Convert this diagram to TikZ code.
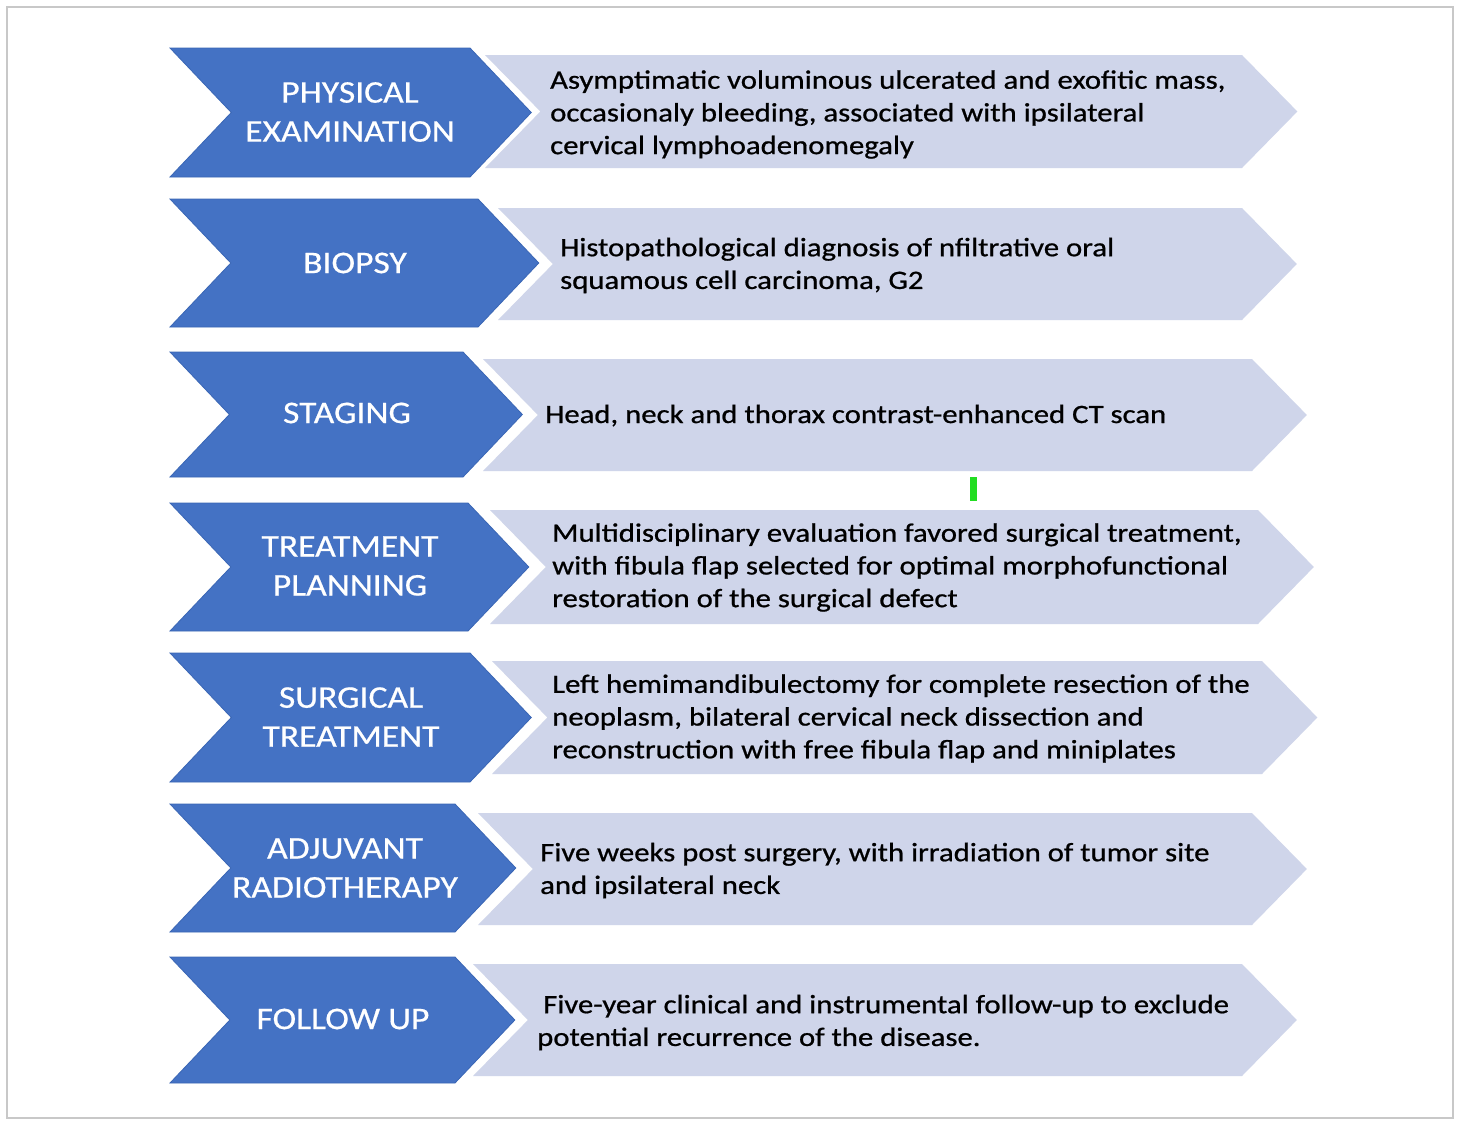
\documentclass[tikz,border=0pt]{standalone}
\usepackage{fontspec}
\setmainfont{Carlito}[FakeStretch=1.16, FakeBold=0.8]
\newfontfamily\lblfont{Carlito}[FakeStretch=1.13, FakeBold=0.6]
\definecolor{chevblue}{HTML}{4472C4}
\definecolor{chevedge}{HTML}{3A66B5}
\definecolor{chevlight}{HTML}{CFD5EA}
\definecolor{framegray}{HTML}{C8C8C8}
\definecolor{markgreen}{HTML}{22DD22}
\tikzset{
  bluechev/.style={fill=chevblue, draw=chevedge, line width=0.8pt, line join=miter},
  lightchev/.style={fill=chevlight},
  lbl/.style={text=white, align=center, inner sep=0pt, font=\lblfont\fontsize{31.5}{39}\selectfont},
  txt/.style={text=black, align=left, anchor=west, inner sep=0pt, yshift=-2.5pt, font=\fontsize{26.5}{32.7}\selectfont},
}
% #1 top, #2 bottom, #3 blue right x, #4 light left x, #5 light top, #6 light bottom, #7 light right x
\newcommand\chevrow[7]{%
  \pgfmathsetmacro\chvMidB{(#1+#2)/2}%
  \pgfmathsetmacro\chvDepB{(#2-#1)/2*0.95}%
  \pgfmathsetmacro\chvMidL{(#5+#6)/2}%
  \pgfmathsetmacro\chvDepL{(#6-#5)/2*0.98}%
  \fill[lightchev] (#4,#5) -- (#7,#5) -- ({#7+\chvDepL},\chvMidL) -- (#7,#6) -- (#4,#6) -- ({#4+\chvDepL},\chvMidL) -- cycle;
  \filldraw[bluechev] (170,#1) -- (#3,#1) -- ({#3+\chvDepB},\chvMidB) -- (#3,#2) -- (170,#2) -- ({170+\chvDepB},\chvMidB) -- cycle;
}
\begin{document}
\begin{tikzpicture}[x=1pt,y=-1pt]
\useasboundingbox (0,0) rectangle (1460,1127);
\fill[white] (0,0) rectangle (1460,1127);
\draw[framegray, line width=1.5pt] (7,7) rectangle (1453,1118);

\chevrow{48}{177}{470}{485}{55}{168}{1242}
\chevrow{199}{327}{478}{498}{208}{320}{1242}
\chevrow{352}{477}{463}{483}{359}{471}{1252}
\chevrow{503}{631}{468}{490}{510}{624}{1258}
\chevrow{653}{782}{470}{492}{661}{774}{1262}
\chevrow{804}{932}{455}{478}{813}{925}{1252}
\chevrow{957}{1083}{455}{473}{964}{1076}{1242}

\node[lbl] (l1) at (350,112) {PHYSICAL\\EXAMINATION};
\node[lbl] (l2) at (355,263) {BIOPSY};
\node[lbl] (l3) at (347,413) {STAGING};
\node[lbl] (l4) at (350,566) {TREATMENT\\PLANNING};
\node[lbl] (l5) at (351,717) {SURGICAL\\TREATMENT};
\node[lbl] (l6) at (345,868) {ADJUVANT\\RADIOTHERAPY};
\node[lbl] (l7) at (343,1019) {FOLLOW UP};

\node[txt] (t1) at (550,112) {Asymptimatic voluminous ulcerated and exofitic mass,\\occasionaly bleeding, associated with ipsilateral\\cervical lymphoadenomegaly};
\node[txt] (t2) at (560,263) {Histopathological diagnosis of nfiltrative oral\\squamous cell carcinoma, G2};
\node[txt] (t3) at (545,413) {Head, neck and thorax contrast-enhanced CT scan};
\node[txt] (t4) at (552,565) {Multidisciplinary evaluation favored surgical treatment,\\with fibula flap selected for optimal morphofunctional\\restoration of the surgical defect};
\node[txt] (t5) at (552,716) {Left hemimandibulectomy for complete resection of the\\neoplasm, bilateral cervical neck dissection and\\reconstruction with free fibula flap and miniplates};
\node[txt] (t6) at (540,868) {Five weeks post surgery, with irradiation of tumor site\\and ipsilateral neck};
\node[txt] (t7) at (537,1020) {\hspace{6pt}Five-year clinical and instrumental follow-up to exclude\\potential recurrence of the disease.};

\fill[markgreen] (970,477) rectangle (977,501);
\end{tikzpicture}
\end{document}
